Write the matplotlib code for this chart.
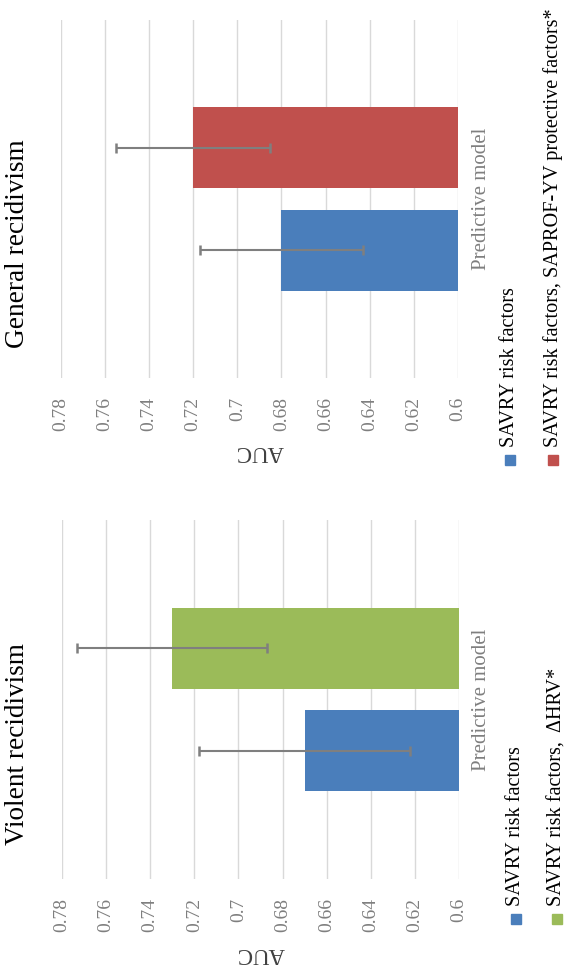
#!/usr/bin/env python3
"""
AUC of the predictive models for general and violent recidivism.

The original figure is a page turned 90 degrees counter-clockwise, so each
panel is drawn as a horizontal bar chart with an inverted AUC axis and
rotated text.
"""

import numpy as np
import matplotlib
matplotlib.use("Agg")
import matplotlib.pyplot as plt
from matplotlib.patches import Rectangle

# ── Data ─────────────────────────────────────────────────────────────────────
PANEL_TITLES = ["General recidivism", "Violent recidivism"]
CATEGORY     = "Predictive model"

GENERAL_LABELS = ["SAVRY risk factors",
                  "SAVRY risk factors, SAPROF-YV protective factors*"]
GENERAL_AUC    = [0.68, 0.72]
GENERAL_CI_LO  = [0.643, 0.685]
GENERAL_CI_HI  = [0.717, 0.755]

VIOLENT_LABELS = ["SAVRY risk factors",
                  "SAVRY risk factors,  \u0394HRV*"]
VIOLENT_AUC    = [0.67, 0.73]
VIOLENT_CI_LO  = [0.622, 0.687]
VIOLENT_CI_HI  = [0.718, 0.773]

AUC_TICKS = [0.60, 0.62, 0.64, 0.66, 0.68, 0.70, 0.72, 0.74, 0.76, 0.78]

# ── Style ────────────────────────────────────────────────────────────────────
W, H = 570, 968
BLUE, RED, GREEN = "#4A7EBB", "#C0504D", "#9BBB59"
GRID  = "#D9D9D9"
GREY  = "#7F7F7F"
FONT  = "Liberation Serif"

plt.rcParams["font.family"] = [FONT, "DejaVu Serif"]


def fx(x):
    return x / W


def fy(y):
    return 1 - y / H


def draw_panel(fig, box, title, labels, auc, lo, hi, colors,
               title_y, leg_y, leg_x):
    left, right, top, bottom = box
    ax = fig.add_axes([fx(left), fy(bottom), fx(right) - fx(left),
                       (bottom - top) / H])

    base = AUC_TICKS[0]
    offsets = [-0.143, 0.143]
    for off, v, l, h, c in zip(offsets, auc, lo, hi, colors):
        ax.barh(off, v - base, left=base, height=0.226, color=c, zorder=2)
        ax.errorbar(v, off, xerr=[[v - l], [h - v]], fmt="none",
                    ecolor=GREY, elinewidth=1.5, capsize=3.6, capthick=1.8,
                    zorder=3)

    ax.set_xlim(AUC_TICKS[-1], AUC_TICKS[0])
    ax.set_ylim(-0.5, 0.5)
    ax.set_xticks(AUC_TICKS)
    ax.set_xticklabels([f"{round(t, 2):g}" for t in AUC_TICKS])
    ax.tick_params(axis="x", length=0, pad=13.5, labelsize=14,
                   labelcolor=GREY, labelrotation=90)
    ax.set_yticks([])
    ax.grid(axis="x", color=GRID, lw=1, zorder=0)
    for s in ax.spines.values():
        s.set_visible(False)

    mid_y = (top + bottom) / 2
    # title, axis name, category name
    fig.text(fx(17.5), fy(title_y), title, rotation=90,
             ha="center", va="center", fontsize=19.6, color="black")
    fig.text(fx((left + right) / 2), fy(bottom + 74), "AUC", rotation=180,
             ha="center", va="center", fontsize=16.5, color="#404040")
    fig.text(fx(482), fy(mid_y), CATEGORY, rotation=90,
             ha="center", va="center", fontsize=15, color=GREY)

    # legend, rotated by hand
    for (lx, c, lab) in zip(leg_x, colors, labels):
        fig.patches.append(Rectangle((fx(lx - 5), fy(leg_y + 18)),
                                     10 / W, 10 / H, color=c,
                                     transform=fig.transFigure))
        fig.text(fx(lx), fy(leg_y), lab, rotation=90,
                 ha="center", va="bottom", fontsize=14.6, color="black")
    return ax


def main():
    fig = plt.figure(figsize=(W / 100, H / 100), dpi=100)
    fig.patch.set_facecolor("white")

    draw_panel(fig, (60.7, 458, 20, 378), PANEL_TITLES[0], GENERAL_LABELS,
               GENERAL_AUC, GENERAL_CI_LO, GENERAL_CI_HI, [BLUE, RED],
               244, 447, [510, 553])
    draw_panel(fig, (62, 459, 520, 879), PANEL_TITLES[1], VIOLENT_LABELS,
               VIOLENT_AUC, VIOLENT_CI_LO, VIOLENT_CI_HI, [BLUE, GREEN],
               744, 906, [516, 557])

    fig.savefig("out.png", dpi=100, facecolor="white")
    plt.close(fig)


if __name__ == "__main__":
    main()
